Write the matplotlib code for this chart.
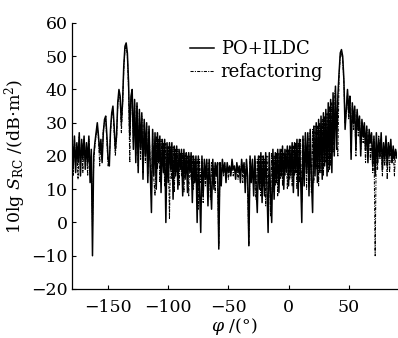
import numpy as np
import matplotlib
matplotlib.use("Agg")
from matplotlib import pyplot as plt

# scattering angle, 1 degree steps
phi = np.arange(-180, 91)

# PO+ILDC (solid), values
po_ildc = [
    25, 17, 26, 15, 24, 18, 27, 14, 25, 19,   # -180
    26, 16, 24, 18, 26, 12, 22, -10, 20, 24,  # -170
    27, 30, 26, 21, 25, 18, 27, 31, 32, 26,   # -160
    19, 17, 28, 33, 35, 29, 22, 26, 36, 40,   # -150
    38, 30, 36, 47, 53, 54, 51, 42, 26, 38,   # -140
    40, 22, 37, 18, 36, 15, 34, 22, 33, 13,   # -130
    31, 20, 30, 12, 29, 16, 3, 28, 14, 27,    # -120
    10, 27, 18, 26, 9, 25, 15, 25, 0, 24,     # -110
    12, 24, 16, 24, 7, 23, 14, 23, 10, 22,    # -100
    16, 22, 8, 22, 13, 21, 9, 21, 15, 21,     # -90
    6, 20, 12, 20, 0, 20, 10, -3, 20, 8,      # -80
    19, 13, 19, 5, 19, 12, 4, 19, 10, 18,     # -70
    14, 18, -8, 18, 11, 19, 15, 18, 12, 18,   # -60
    15, 17, 14, 19, 16, 17, 13, 18, 15, 17,   # -50
    12, 19, 15, 18, 9, 19, 14, -7, 20, 12,    # -40
    19, 8, 20, 11, 3, 20, 10, 21, 6, 20,      # -30
    8, 21, 11, -3, 21, 9, 0, 22, 7, 21,       # -20
    12, 22, 9, 22, 14, 23, 10, 22, 15, 23,    # -10
    11, 23, 14, 24, 9, 24, 15, 25, 8, 25,     # 0
    14, 0, 26, 11, 27, 15, 27, 8, 28, 13,     # 10
    3, 29, 14, 30, 12, 31, 15, 32, 13, 33,    # 20
    17, 34, 14, 36, 16, 37, 15, 39, 20, 41,   # 30
    22, 38, 45, 51, 52, 50, 43, 28, 34, 40,   # 40
    33, 38, 19, 36, 30, 35, 22, 34, 28, 32,   # 50
    20, 31, 26, 30, 22, 29, 18, 28, 24, 27,   # 60
    17, 26, 14, 27, 18, 25, 20, 27, 16, 24,   # 70
    19, 26, 17, 24, 20, 25, 18, 23, 19, 22,   # 80
    20,                                       # 90
]

# refactoring (dash-dot)
refactoring = [
    24, 14, 25, 19, 23, 13, 26, 17, 24, 15,   # -180
    25, 19, 23, 14, 25, 16, 20, -1, 18, 23,   # -170
    26, 29, 25, 17, 24, 19, 28, 30, 31, 24,   # -160
    17, 19, 27, 32, 34, 27, 20, 25, 35, 39,   # -150
    37, 27, 35, 46, 52, 53, 50, 40, 18, 37,   # -140
    39, 24, 36, 20, 35, 17, 33, 19, 32, 15,   # -130
    30, 18, 29, 14, 28, 18, 8, 27, 13, 8,     # -120
    26, 16, 25, 12, 25, 17, 24, 11, 24, 14,   # -110
    23, 1, 23, 13, 23, 9, 22, 15, 22, 11,     # -100
    21, 14, 21, 9, 21, 15, 20, 8, 20, 13,     # -90
    20, 10, 19, 14, 19, 4, 19, 12, 19, 6,     # -80
    18, 11, 18, 13, 18, 7, 18, 12, 17, 9,     # -70
    17, 13, -7, 17, 13, 18, 14, 17, 15, 17,   # -60
    13, 16, 15, 18, 14, 16, 15, 17, 13, 16,   # -50
    15, 18, 12, 17, 14, 18, 10, -7, 19, 13,   # -40
    18, 10, 19, 7, 19, 12, 20, 8, 20, 11,     # -30
    19, 5, 20, 10, 20, 2, 21, 9, 20, 11,      # -20
    21, 8, 21, 13, 22, 11, 21, 14, 22, 10,    # -10
    22, 13, 23, 11, 23, 14, 24, 10, 24, 12,   # 0
    25, 6, 25, 13, 26, 10, 26, 14, 27, 9,     # 10
    28, 12, 29, 16, 29, 11, 30, 15, 31, 14,   # 20
    32, 18, 33, 15, 35, 17, 36, 21, 38, 40,   # 30
    24, 20, 44, 50, 51, 49, 42, 30, 33, 39,   # 40
    31, 37, 21, 35, 28, 34, 20, 33, 26, 31,   # 50
    22, 30, 24, 29, 18, 28, 22, 27, 19, 26,   # 60
    15, 25, -10, 24, 16, 26, 19, 25, 14, 23,  # 70
    17, 25, 13, 24, 15, 23, 18, 22, 14, 21,   # 80
    19,                                       # 90
]

x_ticks = [-150, -100, -50, 0, 50]
y_ticks = [-20, -10, 0, 10, 20, 30, 40, 50, 60]

plt.rcParams["font.family"] = "DejaVu Serif"
plt.rcParams["mathtext.fontset"] = "dejavuserif"

fig = plt.figure(figsize=(3.98, 3.38), dpi=100)
ax = fig.add_axes([0.181, 0.145, 0.816, 0.787])

ax.plot(phi, po_ildc, color="black", lw=1.1, label="PO+ILDC")
ax.plot(phi, refactoring, color="black", lw=0.75, linestyle=(0, (3, 1.2, 1, 1.2)),
        label="refactoring")

ax.set_xlim(-180, 90)
ax.set_ylim(-20, 60)
ax.set_xticks(x_ticks)
ax.set_yticks(y_ticks)
ax.set_xticklabels([str(t).replace("-", "\u2212") for t in x_ticks])
ax.set_yticklabels([str(t).replace("-", "\u2212") for t in y_ticks])
ax.tick_params(direction="in", length=3, width=0.8, labelsize=12.5)
ax.tick_params(axis="x", pad=7)
ax.tick_params(axis="y", pad=3)

for s in ["top", "right"]:
    ax.spines[s].set_visible(False)
ax.spines["left"].set_linewidth(0.9)
ax.spines["bottom"].set_linewidth(0.9)

ax.set_xlabel(r"$\varphi$ /(°)", fontsize=12.5, labelpad=0)
ax.set_ylabel(r"10lg $S_{\rm RC}$ /(dB$\cdot$m$^2$)", fontsize=12.5, labelpad=2)

ax.legend(loc="upper left", bbox_to_anchor=(0.33, 0.975), frameon=False,
          fontsize=13, handlelength=1.3, handletextpad=0.4, labelspacing=0.25,
          borderaxespad=0.2)

fig.savefig("out.png", dpi=100)
